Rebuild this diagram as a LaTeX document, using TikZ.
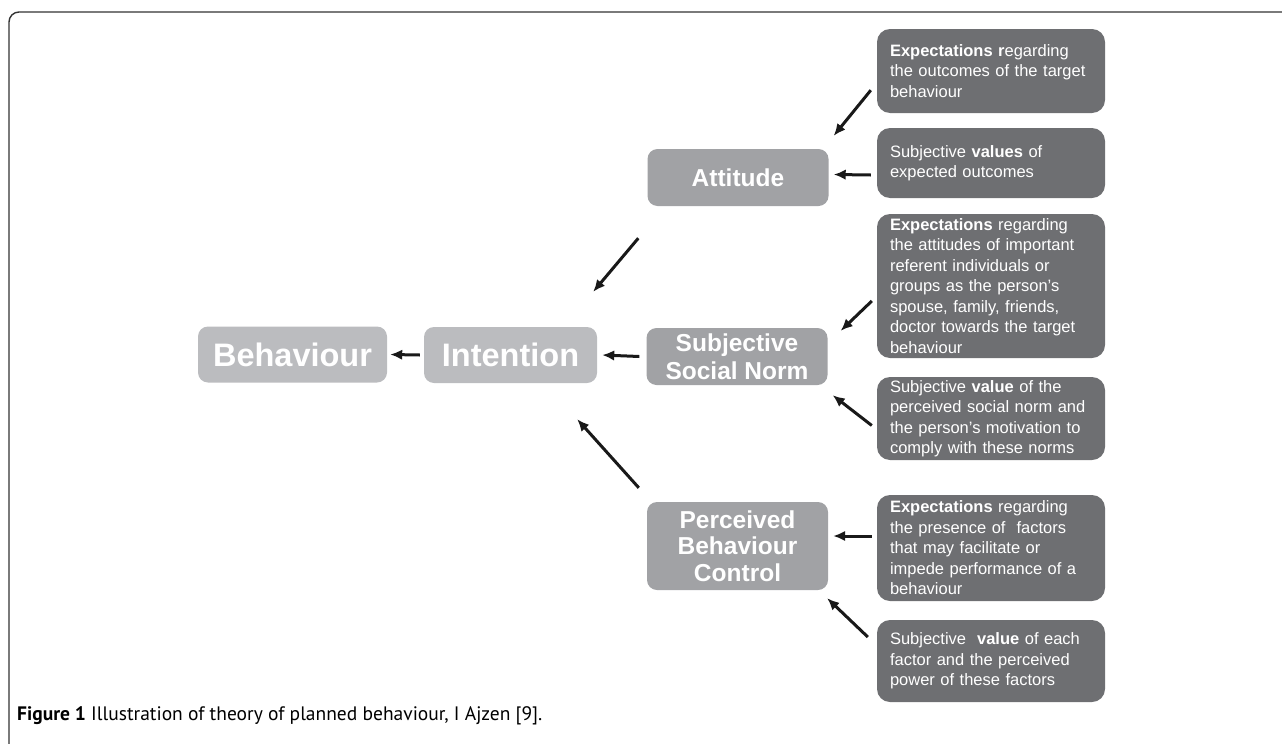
\documentclass[tikz,border=0pt]{standalone}
\usepackage{fontspec}
\setmainfont{Liberation Sans}
\newfontfamily\capfont{PT Sans}
\usepackage{color}
\usetikzlibrary{arrows.meta,math}

\definecolor{lightbox}{HTML}{BBBCBF}
\definecolor{midbox}{HTML}{A1A2A5}
\definecolor{darkbox}{HTML}{6E6F72}
\hyphenpenalty=10000
\exhyphenpenalty=10000

\begin{document}
\begin{tikzpicture}[x=1pt,y=-1pt,
    mainbox/.style={fill=lightbox, rounded corners=10pt, text=white, inner sep=0pt,
      minimum height=56pt, font=\fontsize{32.5}{36}\selectfont\bfseries},
    factor/.style={fill=midbox, rounded corners=10pt, text=white, inner sep=0pt, align=center,
      minimum width=181pt, font=\fontsize{24.5}{28}\selectfont\bfseries},
    belief/.style={fill=darkbox, rounded corners=13pt, text=white, text width=202pt, align=left,
      inner xsep=13pt, inner ysep=2pt, font=\fontsize{16.5}{20.5}\selectfont},
    arr/.style={-{Latex[length=12pt,width=10.5pt]}, line width=3pt, black!90}]
      \tikzmath{\rx = 991;}
      \useasboundingbox (0,0) rectangle (1282,744);
      \draw[line width=1.4pt, rounded corners=10pt, black!80] (9,744) -- (9,12) -- (1282,12);

      % left part
      \node[mainbox, minimum width=189pt] (beh) at (292.5,354.5) {Behaviour};
      \node[mainbox, minimum width=173pt] (int) at (510.5,355) {Intention};

      % the three factors
      \node[factor, minimum height=57pt] (att) at (738,177.5) {Attitude};
      \node[factor, minimum height=57pt] (ssn) at (737,356.5) {Subjective\\Social Norm};
      \node[factor, minimum height=88pt, font=\fontsize{24.5}{26.5}\selectfont\bfseries] (pbc) at (737.5,546) {Perceived\\Behaviour\\Control};

      % beliefs on the right
      \node[belief, minimum height=84pt] (exatt) at (\rx,71) {\textbf{Expectations r}egarding the outcomes of the target behaviour};
      \node[belief, minimum height=70pt] (valatt) at (\rx,163) {Subjective \textbf{values} of\\expected outcomes};
      \node[belief, minimum height=144pt] (exssn) at (\rx,286) {\textbf{Expectations} regarding the attitudes of important referent individuals or groups as the person’s spouse, family, friends, doctor towards the target behaviour};
      \node[belief, minimum height=83pt] (valssn) at (\rx,418.5) {Subjective \textbf{value} of the perceived social norm and the person’s motivation to comply with these norms};
      \node[belief, minimum height=106pt] (expbc) at (\rx,548) {\textbf{Expectations} regarding\\the presence of\ \ factors\\that may facilitate or\\impede performance of a\\behaviour};
      \node[belief, minimum height=82pt] (valpbc) at (\rx,661) {Subjective\ \ \textbf{value} of each factor and the perceived power of these factors};

      % arrows
      \draw[arr] ([shift={(-6,-23)}]exatt.south west) -- ([shift={(5,-13)}]att.north east);
      \draw[arr] ([shift={(-6,12)}]valatt.west) -- ([shift={(5,-3)}]att.east);
      \draw[arr] ([shift={(-5,15)}]exssn.west) -- ([shift={(13,3)}]ssn.north east);
      \draw[arr] ([shift={(-5,7)}]valssn.west) -- ([shift={(5,10)}]ssn.south east);
      \draw[arr] ([shift={(-5,-12)}]expbc.west) -- ([shift={(5,-10)}]pbc.east);
      \draw[arr] ([shift={(-9,-24)}]valpbc.west) -- ([shift={(-1,8)}]pbc.south east);
      \draw[arr] ([shift={(-9,32)}]att.south west) -- ([shift={(-4,-35)}]int.north east);
      \draw[arr] ([xshift=-7]ssn.west) -- ([xshift=5]int.east);
      \draw[arr] ([shift={(-8,-14)}]pbc.north west) -- ([shift={(-20,36)}]int.south east);
      \draw[arr] ([xshift=-4]int.west) -- ([xshift=3]beh.east);

      \node[anchor=base west, inner sep=0pt, font=\capfont\fontsize{19.5}{22}\selectfont] (cap) at (17,720) {\textbf{Figure 1} Illustration of theory of planned behaviour, I Ajzen [9].};
\end{tikzpicture}
\end{document}
